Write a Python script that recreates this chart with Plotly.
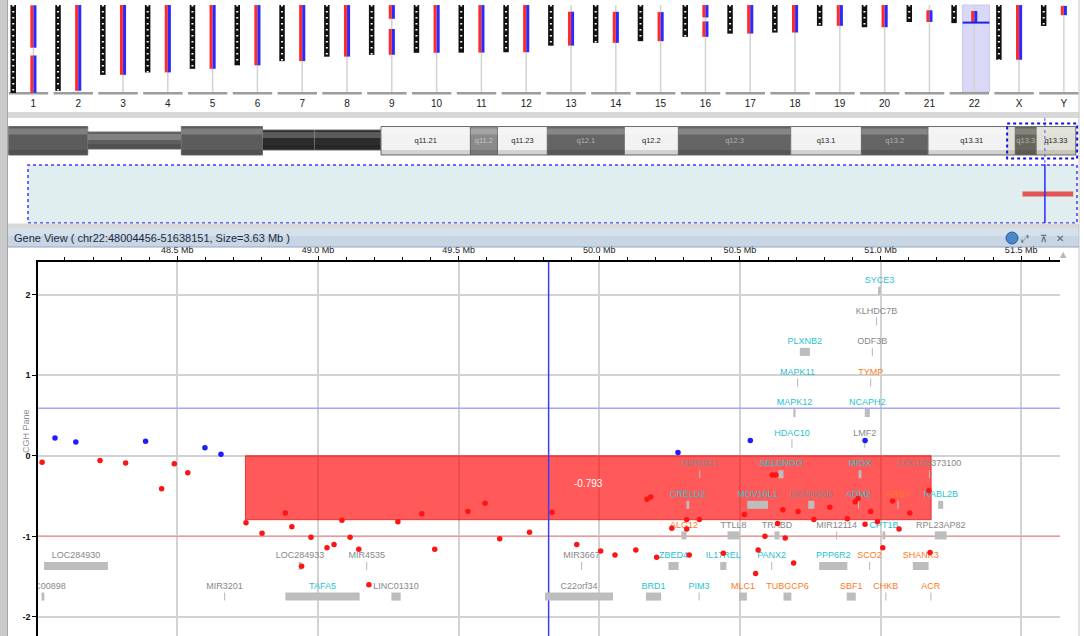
import plotly.graph_objects as go

W, H = 1084, 636


def px(x):
    return x / W


def py(y):
    return 1 - y / H


# ---------------- genome overview (chromosome lengths in Mb) ----------------
chroms = ['1', '2', '3', '4', '5', '6', '7', '8', '9', '10', '11', '12',
          '13', '14', '15', '16', '17', '18', '19', '20', '21', '22', 'X', 'Y']
chrom_len = [249.3, 243.2, 198.0, 191.2, 180.9, 171.1, 159.1, 146.4, 141.2, 135.5, 135.0, 133.9,
             115.2, 107.3, 102.5, 90.4, 81.2, 78.1, 59.1, 63.0, 48.1, 51.3, 155.3, 59.4]
probe_from = [0.8, 0.0, 0.1, 0.1, 0.1, 0.2, 0.1, 0.2, 0.2, 0.1, 0.2, 0.1,
              19.0, 19.3, 20.1, 0.1, 0.1, 0.1, 0.3, 0.1, 15.0, 17.0, 0.2, 2.7]
probe_to = [248.9, 242.9, 197.8, 190.9, 180.7, 170.9, 158.9, 146.2, 141.0, 135.3, 134.8, 133.7,
            115.0, 107.2, 102.4, 90.2, 81.0, 77.9, 59.0, 62.9, 48.0, 51.2, 155.1, 28.8]
gap_chrom = ['1', '9', '16']
gap_from = [121.0, 39.0, 35.3]
gap_to = [143.0, 68.0, 46.5]

# ---------------- chr22 ideogram bands (Mb) ----------------
band_names = ['p13', 'p12', 'p11.2', 'p11.1', 'q11.1', 'q11.21', 'q11.22', 'q11.23', 'q12.1',
              'q12.2', 'q12.3', 'q13.1', 'q13.2', 'q13.31', 'q13.32', 'q13.33']
band_start = [0.0, 3.8, 8.3, 12.2, 14.7, 17.9, 22.2, 23.5, 25.9, 29.6, 32.2, 37.6, 41.0, 44.2, 48.4, 49.4]
band_end = [3.8, 8.3, 12.2, 14.7, 17.9, 22.2, 23.5, 25.9, 29.6, 32.2, 37.6, 41.0, 44.2, 48.4, 49.4, 51.3]
band_stain = ['gvar', 'stalk', 'gvar', 'acen', 'acen', 'gneg', 'gpos25', 'gneg', 'gpos50',
              'gneg', 'gpos50', 'gneg', 'gpos50', 'gneg', 'gpos50', 'gneg']

# ---------------- gene view ----------------
view_chrom = 'chr22'
view_start = 48004456
view_end = 51638151
cursor_mb = 49.82
seg_start, seg_end, seg_mean = 48.742, 51.18, -0.793
threshold_gain, threshold_loss = 0.59, -1.0

red_mb = [48.019, 48.225, 48.316, 48.444, 48.489, 48.537, 48.744, 48.801, 48.884, 48.907,
          48.975, 48.942, 49.032, 49.057, 49.085, 49.114, 49.145, 49.181, 49.284, 49.369,
          49.415, 49.533, 49.594, 49.646, 49.752, 49.832, 49.920, 50.005, 50.056, 50.130,
          50.170, 50.183, 50.204, 50.258, 50.311, 50.311, 50.356, 50.320, 50.441, 50.516,
          50.565, 50.556, 50.589, 50.615, 50.628, 50.634, 50.661, 50.653, 50.691, 50.707,
          50.763, 50.820, 50.882, 50.910, 50.920, 50.945, 50.965, 50.989, 51.008, 51.043,
          51.066, 51.104, 51.176, 51.172]
red_val = [-0.08, -0.06, -0.09, -0.41, -0.10, -0.21, -0.83, -0.96, -0.71, -0.88,
           -1.01, -1.37, -1.14, -1.10, -0.80, -1.01, -1.16, -1.60, -0.82, -0.72,
           -1.16, -0.69, -0.59, -1.03, -0.95, -0.70, -1.10, -1.18, -1.23, -1.17,
           -0.54, -0.51, -1.26, -0.90, -0.79, -0.91, -0.79, -1.23, -1.21, -0.73,
           -1.17, -1.46, -1.00, -0.24, -0.24, -0.84, -1.02, -0.67, -1.33, -0.69,
           -0.79, -0.64, -0.78, -0.57, -0.53, -0.85, -0.69, -0.82, -1.14, -0.56,
           -0.91, -0.71, -1.20, -0.43]
blue_mb = [48.065, 48.139, 48.387, 48.598, 48.655, 50.280, 50.537, 50.945]
blue_val = [0.22, 0.17, 0.18, 0.10, 0.02, 0.04, 0.19, 0.19]

gene_names = ['SYCE3', 'KLHDC7B', 'PLXNB2', 'ODF3B', 'MAPK11', 'TYMP', 'MAPK12', 'NCAPH2',
              'HDAC10', 'LMF2', 'MIR6821', 'SELENOO', 'MIOX', 'LOC105373100', 'CRELD2',
              'MOV10L1', 'DENND6B', 'ADM2', 'ARSA', 'RABL2B', 'ALG12', 'TTLL8', 'TRABD',
              'MIR12114', 'CPT1B', 'RPL23AP82', 'LOC284930', 'LOC284933', 'MIR4535', 'MIR3667',
              'ZBED4', 'IL17REL', 'PANX2', 'PPP6R2', 'SCO2', 'SHANK3', 'LINC00898', 'MIR3201',
              'TAFA5', 'LINC01310', 'C22orf34', 'BRD1', 'PIM3', 'MLC1', 'TUBGCP6', 'SBF1',
              'CHKB', 'ACR']
gene_start = [50.991, 50.984, 50.713, 50.969, 50.703, 50.963, 50.690, 50.944,
              50.683, 50.942, 50.355, 50.637, 50.922, 51.172, 50.310,
              50.526, 50.743, 50.920, 51.060, 51.205, 50.292, 50.456, 50.623,
              50.842, 51.007, 51.193, 48.026, 48.931, 49.171, 49.935,
              50.246, 50.430, 50.611, 50.782, 50.959, 51.115, 48.017, 48.666,
              48.884, 49.261, 49.807, 50.166, 50.353, 50.497, 50.655, 50.880,
              51.017, 51.177]
gene_end = [51.001, 50.988, 50.749, 50.973, 50.707, 50.967, 50.698, 50.962,
            50.687, 50.946, 50.359, 50.655, 50.932, 51.176, 50.320,
            50.600, 50.765, 50.924, 51.064, 51.223, 50.310, 50.498, 50.641,
            50.846, 51.017, 51.235, 48.253, 48.941, 49.175, 49.939,
            50.282, 50.452, 50.615, 50.882, 50.963, 51.171, 48.027, 48.670,
            49.148, 49.294, 50.049, 50.220, 50.357, 50.525, 50.683, 50.912,
            51.021, 51.181]
gene_row = [0, 1, 2, 2, 3, 3, 4, 4, 5, 5, 6, 6, 6, 6, 7, 7, 7, 7, 7, 7, 8, 8, 8, 8, 8, 8,
            9, 9, 9, 9, 9, 9, 9, 9, 9, 9, 10, 10, 10, 10, 10, 10, 10, 10, 10, 10, 10, 10]
gene_kind = ['c', 'n', 'c', 'n', 'c', 'o', 'c', 'c', 'c', 'n', 'n', 'c', 'c', 'n', 'c',
             'c', 'n', 'c', 'o', 'c', 'o', 'n', 'n', 'n', 'c', 'n', 'n', 'n', 'n', 'n',
             'c', 'c', 'c', 'c', 'o', 'o', 'n', 'n', 'c', 'n', 'n', 'c', 'c', 'o', 'o', 'o',
             'o', 'o']

x_ticks = [48.5, 49.0, 49.5, 50.0, 50.5, 51.0, 51.5]
x_tick_text = ['48.5 Mb', '49.0 Mb', '49.5 Mb', '50.0 Mb', '50.5 Mb', '51.0 Mb', '51.5 Mb']
y_ticks = [-2, -1, 0, 1, 2]

kind_color = {'n': '#888888', 'c': '#1fc3cd', 'o': '#ff7a22'}
FONT = 'Liberation Sans'

fig = go.Figure()
shapes = []

# ====== genome overview ======
guide_x, guide_y, base_x, base_y, ideo_x, ideo_y, col_x, col_y = [], [], [], [], [], [], [], []
for i, c in enumerate(chroms):
    guide_x += [i, i, None]
    guide_y += [0, 250, None]
    base_x += [i - 0.55, i + 0.33, None]
    base_y += [250, 250, None]
    ideo_x += [i - 0.45, i - 0.45, None]
    ideo_y += [0, chrom_len[i], None]
    if c in gap_chrom:
        k = gap_chrom.index(c)
        col_x += [i, i, None, i, i, None]
        col_y += [probe_from[i], gap_from[k], None, gap_to[k], probe_to[i], None]
    else:
        col_x += [i, i, None]
        col_y += [probe_from[i], probe_to[i], None]

i22 = chroms.index('22')
shapes.append(dict(type='rect', xref='x', yref='y', x0=i22 - 0.26, x1=i22 + 0.34, y0=0, y1=246,
                   fillcolor='#d9d9f7', line=dict(color='#c9c9f0', width=1), layer='below'))

fig.add_trace(go.Scatter(x=guide_x, y=guide_y, mode='lines', xaxis='x', yaxis='y',
                         line=dict(color='#d2d2d2', width=1.5), hoverinfo='skip'))
fig.add_trace(go.Scatter(x=base_x, y=base_y, mode='lines', xaxis='x', yaxis='y',
                         line=dict(color='#9c9c9c', width=2.5), hoverinfo='skip'))
fig.add_trace(go.Scatter(x=ideo_x, y=ideo_y, mode='lines', xaxis='x', yaxis='y',
                         line=dict(color='#111111', width=5.5), hoverinfo='skip'))
fig.add_trace(go.Scatter(x=ideo_x, y=ideo_y, mode='lines', xaxis='x', yaxis='y',
                         line=dict(color='white', width=2, dash='1.5px,4.5px'), hoverinfo='skip'))
fig.add_trace(go.Scatter(x=[v - 0.035 if v is not None else None for v in col_x], y=col_y,
                         mode='lines', xaxis='x', yaxis='y',
                         line=dict(color='#ff2a2a', width=3), hoverinfo='skip'))
fig.add_trace(go.Scatter(x=[v + 0.035 if v is not None else None for v in col_x], y=col_y,
                         mode='lines', xaxis='x', yaxis='y',
                         line=dict(color='#2a2aff', width=3), hoverinfo='skip'))
fig.add_trace(go.Scatter(x=[i22 - 0.26, i22 + 0.34], y=[cursor_mb, cursor_mb], mode='lines',
                         xaxis='x', yaxis='y', line=dict(color='#2020ee', width=2), hoverinfo='skip'))
fig.add_trace(go.Scatter(x=list(range(len(chroms))), y=[282] * len(chroms), text=chroms, mode='text',
                         xaxis='x', yaxis='y', textfont=dict(family=FONT, size=10, color='#202020'),
                         hoverinfo='skip'))

# ====== chr22 band bar ======
stain_fill = {'gneg': '#f2f2f2', 'gpos25': '#8a8a8a', 'gpos50': '#646464',
              'gvar': '#5c5c5c', 'stalk': '#5e5e5e', 'acen': '#2c2c2c'}
stain_text = {'gneg': '#1e1e1e', 'gpos25': '#c6c6c6', 'gpos50': '#b2b2b2'}
band_y = {'stalk': (132, 149), 'acen': (130, 150)}
lab_x, lab_y, lab_t, lab_c = [], [], [], []
for name, s, e, st in zip(band_names, band_start, band_end, band_stain):
    y0, y1 = band_y.get(st, (126.5, 155))
    shapes.append(dict(type='rect', xref='x2', yref='y2', x0=s, x1=e, y0=y0, y1=y1,
                       fillcolor=stain_fill[st], line=dict(color='#6e6e6e', width=1), layer='below'))
    shapes.append(dict(type='rect', xref='x2', yref='y2', x0=s, x1=e, y0=y0 + 2, y1=y0 + 8,
                       fillcolor='rgba(255,255,255,0.22)', line_width=0, layer='below'))
    shapes.append(dict(type='rect', xref='x2', yref='y2', x0=s, x1=e, y0=y1 - 5, y1=y1,
                       fillcolor='rgba(0,0,0,0.13)', line_width=0, layer='below'))
    if st in stain_text:
        lab_x.append((s + e) / 2)
        lab_y.append(141)
        lab_t.append(name if (e - s) * 20.8 > 32 else name[:5])
        lab_c.append(stain_text[st])
fig.add_trace(go.Scatter(x=lab_x, y=lab_y, text=lab_t, mode='text', xaxis='x2', yaxis='y2',
                         textfont=dict(family=FONT, size=7.5, color=lab_c), hoverinfo='skip'))

# selected view on the ideogram
shapes.append(dict(type='rect', xref='x2', yref='y2', x0=view_start / 1e6, x1=band_end[-1] + 0.07,
                   y0=126.5, y1=155, fillcolor='rgba(120,120,60,0.14)', line_width=0, layer='below'))
shapes.append(dict(type='rect', xref='x2', yref='y2', x0=view_start / 1e6, x1=band_end[-1] + 0.07,
                   y0=123.5, y1=158.5, line=dict(color='#1010e8', width=2, dash='dot')))
# detail track box
shapes.append(dict(type='rect', xref='paper', yref='paper', x0=px(28), x1=px(1077), y0=py(223), y1=py(165),
                   fillcolor='#e0eeef', line=dict(color='#3c3cff', width=1.5, dash='dot'), layer='below'))
shapes.append(dict(type='rect', xref='x2', yref='y2', x0=seg_start, x1=seg_end, y0=191.5, y1=196.5,
                   fillcolor='#e25555', line_width=0))
shapes.append(dict(type='line', xref='x2', yref='y2', x0=cursor_mb, x1=cursor_mb, y0=118, y1=164,
                   line=dict(color='#5050ff', width=1, dash='dot')))
shapes.append(dict(type='line', xref='x2', yref='y2', x0=cursor_mb, x1=cursor_mb, y0=164, y1=223,
                   line=dict(color='#2a2aff', width=1.5)))

# ====== window chrome ======
shapes.append(dict(type='rect', xref='paper', yref='paper', x0=0, x1=px(8), y0=0, y1=1,
                   fillcolor='#cbcbcb', line_width=0, layer='below'))
shapes.append(dict(type='line', xref='paper', yref='paper', x0=px(7.5), x1=px(7.5), y0=0, y1=1,
                   line=dict(color='#a6a6a6', width=1)))
shapes.append(dict(type='line', xref='paper', yref='paper', x0=px(1079), x1=px(1079), y0=0, y1=1,
                   line=dict(color='#c4c4c4', width=1)))
for ya, yb in [(112, 118), (223.5, 228)]:
    shapes.append(dict(type='rect', xref='paper', yref='paper', x0=px(8), x1=px(1079), y0=py(yb), y1=py(ya),
                       fillcolor='#d8d8d8', line_width=0, layer='below'))
shapes.append(dict(type='rect', xref='paper', yref='paper', x0=px(8), x1=px(1079), y0=py(247), y1=py(228),
                   fillcolor='#c8d5e4', line_width=0, layer='below'))
shapes.append(dict(type='rect', xref='paper', yref='paper', x0=px(8), x1=px(1079), y0=py(236), y1=py(228),
                   fillcolor='#d6e0eb', line_width=0, layer='below'))
shapes.append(dict(type='line', xref='paper', yref='paper', x0=px(8), x1=px(1079), y0=py(247), y1=py(247),
                   line=dict(color='#93a8c2', width=1)))
shapes.append(dict(type='circle', xref='paper', yref='paper', x0=px(1006), x1=px(1018), y0=py(244), y1=py(232),
                   fillcolor='#4a88cc', line=dict(color='#2a5a9a', width=1)))

# ====== gene view ======
row_top, row_step = 2.172, 0.3795
shapes.append(dict(type='rect', xref='x3', yref='y3', x0=seg_start, x1=seg_end, y0=seg_mean, y1=0,
                   fillcolor='rgba(255,0,0,0.65)', line=dict(color='rgba(225,30,30,0.8)', width=1),
                   layer='between'))
shapes.append(dict(type='line', xref='x3', yref='y3', x0=view_start / 1e6, x1=view_end / 1e6,
                   y0=threshold_gain, y1=threshold_gain, line=dict(color='#a4a4fa', width=1.5), layer='between'))
shapes.append(dict(type='line', xref='x3', yref='y3', x0=view_start / 1e6, x1=view_end / 1e6,
                   y0=threshold_loss, y1=threshold_loss, line=dict(color='#ff8a8a', width=1), layer='between'))
shapes.append(dict(type='line', xref='x3', yref='y3', x0=cursor_mb, x1=cursor_mb, y0=-2.3, y1=2.5,
                   line=dict(color='#3c3cff', width=1.5), layer='between'))
for s, e, r in zip(gene_start, gene_end, gene_row):
    yc = row_top - r * row_step - 0.124
    shapes.append(dict(type='rect', xref='x3', yref='y3', x0=s, x1=max(e, s + 0.0036), y0=yc - 0.05,
                       y1=yc + 0.05, fillcolor='#bdbdbd', line_width=0, layer='between'))

fig.add_trace(go.Scatter(x=[(s + e) / 2 for s, e in zip(gene_start, gene_end)],
                         y=[row_top - r * row_step for r in gene_row], text=gene_names, mode='text',
                         xaxis='x3', yaxis='y3', cliponaxis=True,
                         textfont=dict(family=FONT, size=9, color=[kind_color[k] for k in gene_kind]),
                         hoverinfo='skip'))
fig.add_trace(go.Scatter(x=red_mb, y=red_val, mode='markers', xaxis='x3', yaxis='y3',
                         marker=dict(color='#ff1414', size=5.5)))
fig.add_trace(go.Scatter(x=blue_mb, y=blue_val, mode='markers', xaxis='x3', yaxis='y3',
                         marker=dict(color='#1c1cff', size=5.5)))

annotations = [
    dict(xref='paper', yref='paper', x=px(12), y=py(237.5), xanchor='left', yanchor='middle', showarrow=False,
         text=f'Gene View ( {view_chrom}:{view_start}-{view_end}, Size={(view_end - view_start) / 1e6:.2f} Mb )',
         font=dict(family=FONT, size=11, color='#1b2a3c')),
    dict(xref='x3', yref='y3', x=49.96, y=seg_mean / 2 + 0.05, showarrow=False, text=f'{seg_mean:.3f}',
         font=dict(family=FONT, size=10, color='white')),
    dict(xref='paper', yref='paper', x=px(19), y=py(455), showarrow=False, text='CGH Pane', textangle=-90,
         font=dict(family=FONT, size=9, color='#8c8c8c')),
    dict(xref='paper', yref='paper', x=px(1069), y=py(254), showarrow=False, text='▲',
         font=dict(family='DejaVu Sans', size=8, color='#b6b6b6')),
]
for xi, sym in [(1031, '⤢'), (1049, '⊼'), (1066, '✕')]:
    annotations.append(dict(xref='paper', yref='paper', x=px(xi), y=py(238), showarrow=False, text=sym,
                            font=dict(family='DejaVu Sans', size=10, color='#55606e')))

fig.update_layout(
    width=W, height=H, margin=dict(l=0, r=0, t=0, b=0, pad=0), autosize=False,
    paper_bgcolor='white', plot_bgcolor='white', showlegend=False,
    font=dict(family=FONT, size=9, color='#202020'),
    xaxis=dict(domain=[0, 1], range=[-0.7455, 23.45], visible=False, anchor='y'),
    yaxis=dict(domain=[py(112), 1], range=[303.1, -14.16], visible=False, anchor='x'),
    xaxis2=dict(domain=[0, 1], range=[-0.418, 51.70], visible=False, anchor='y2'),
    yaxis2=dict(domain=[py(224), py(118)], range=[224, 118], visible=False, anchor='x2'),
    xaxis3=dict(domain=[px(38), px(1060)], range=[view_start / 1e6, view_end / 1e6], anchor='y3',
                side='top', tickvals=x_ticks, ticktext=x_tick_text, ticks='outside', ticklen=4,
                tickcolor='black', showline=True, linecolor='black', linewidth=1.5,
                showgrid=True, gridcolor='#d2d2d2', gridwidth=1.5, zeroline=False,
                tickfont=dict(family=FONT, size=9, color='#202020'),
                minor=dict(tick0=48.5, dtick=0.1, ticks='outside', ticklen=3, tickcolor='black', showgrid=False)),
    yaxis3=dict(domain=[0, py(262)], range=[-2.236, 2.404], anchor='x3', tickvals=y_ticks,
                ticktext=[str(v) for v in y_ticks], ticks='outside', ticklen=4, tickcolor='black',
                showline=True, linecolor='black', linewidth=1.5, showgrid=True, gridcolor='#d2d2d2',
                gridwidth=1.5, zeroline=False,
                tickfont=dict(family=FONT, size=9, color='#101010', weight='bold')),
    shapes=shapes,
    annotations=annotations,
)

# page has a default 8px body margin; drop it so the figure sits at the window origin
fig.write_html('out.html', config={'displayModeBar': False},
               post_script="document.body.style.margin='0';document.body.style.overflow='hidden';")
